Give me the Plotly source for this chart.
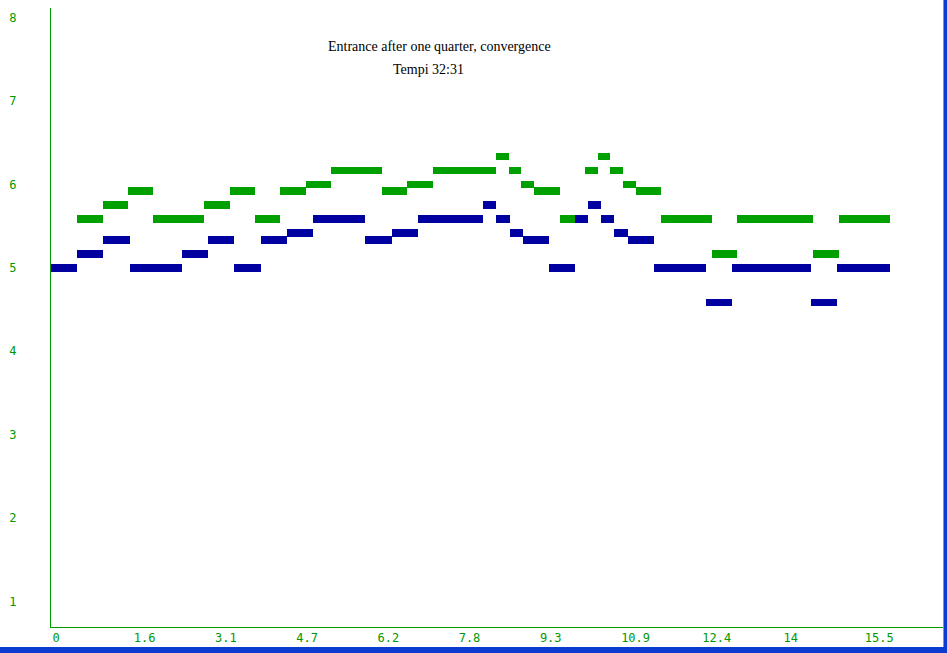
import plotly.graph_objects as go

# Blue voice (dux): bar start, end (x units), pitch (octave + semitone/12)
blue_start = [0.0, 0.5, 1.0, 1.5, 2.5, 3.0, 3.5, 4.0, 4.5, 5.0, 6.0, 6.5, 7.0, 8.25,
              8.5, 8.75, 9.0, 9.5, 10.0, 10.25, 10.5, 10.75, 11.0, 11.5, 12.5, 13.0,
              14.5, 15.0]
blue_end = [0.5, 1.0, 1.5, 2.5, 3.0, 3.5, 4.0, 4.5, 5.0, 6.0, 6.5, 7.0, 8.25, 8.5,
            8.75, 9.0, 9.5, 10.0, 10.25, 10.5, 10.75, 11.0, 11.5, 12.5, 13.0, 14.5,
            15.0, 16.0]
blue_pitch = [5.0, 5.167, 5.333, 5.0, 5.167, 5.333, 5.0, 5.333, 5.417, 5.583, 5.333,
              5.417, 5.583, 5.75, 5.583, 5.417, 5.333, 5.0, 5.583, 5.75, 5.583, 5.417,
              5.333, 5.0, 4.583, 5.0, 4.583, 5.0]

# Green voice (comes): enters after one quarter, slightly faster
green_start = [0.5, 0.984, 1.469, 1.953, 2.922, 3.406, 3.891, 4.375, 4.859, 5.344,
               6.313, 6.797, 7.281, 8.492, 8.734, 8.977, 9.219, 9.703, 10.188, 10.430,
               10.672, 10.914, 11.156, 11.641, 12.609, 13.094, 14.547, 15.031]
green_end = [0.984, 1.469, 1.953, 2.922, 3.406, 3.891, 4.375, 4.859, 5.344, 6.313,
             6.797, 7.281, 8.492, 8.734, 8.977, 9.219, 9.703, 10.188, 10.430, 10.672,
             10.914, 11.156, 11.641, 12.609, 13.094, 14.547, 15.031, 16.0]
green_pitch = [5.583, 5.75, 5.917, 5.583, 5.75, 5.917, 5.583, 5.917, 6.0, 6.167, 5.917,
               6.0, 6.167, 6.333, 6.167, 6.0, 5.917, 5.583, 6.167, 6.333, 6.167, 6.0,
               5.917, 5.583, 5.167, 5.583, 5.167, 5.583]

x_tickvals = [0, 1.55, 3.1, 4.65, 6.2, 7.75, 9.3, 10.85, 12.4, 13.95, 15.5]
x_ticktext = ["0", "1.6", "3.1", "4.7", "6.2", "7.8", "9.3", "10.9", "12.4", "14", "15.5"]
y_tickvals = [1, 2, 3, 4, 5, 6, 7, 8]

title_line1 = "Entrance after one quarter, convergence"
title_line2 = "Tempi 32:31"

GREEN = "#00A000"
BLUE = "#0000A0"
AXIS_GREEN = "#009900"
FRAME = "#0B3BD0"

def bar_trace(starts, ends, pitches, color, name):
    return go.Bar(
        orientation="h",
        base=starts,
        x=[e - s for s, e in zip(starts, ends)],
        y=pitches,
        width=0.092,
        marker=dict(color=color, line=dict(width=0)),
        name=name,
        showlegend=False,
        hoverinfo="skip",
    )

fig = go.Figure()
fig.add_trace(bar_trace(green_start, green_end, green_pitch, GREEN, "comes"))
fig.add_trace(bar_trace(blue_start, blue_end, blue_pitch, BLUE, "dux"))

mono = dict(family="DejaVu Sans Mono", size=12, color=AXIS_GREEN)

fig.update_layout(
    width=947,
    height=653,
    margin=dict(l=51, r=4, t=8, b=26),
    paper_bgcolor="white",
    plot_bgcolor="white",
    barmode="overlay",
    bargap=0,
    xaxis=dict(
        range=[0, 17.02],
        tickmode="array",
        tickvals=x_tickvals,
        ticktext=x_ticktext,
        ticks="",
        showgrid=False,
        zeroline=False,
        showline=True,
        linecolor=AXIS_GREEN,
        linewidth=1,
        tickfont=mono,
        ticklabelposition="outside right",
        ticklabelstandoff=0,
        ticklabelshift=1,
    ),
    yaxis=dict(
        range=[0.694, 8.114],
        tickmode="array",
        tickvals=y_tickvals,
        ticks="",
        showgrid=False,
        zeroline=False,
        showline=True,
        linecolor=AXIS_GREEN,
        linewidth=1,
        tickfont=mono,
        ticklabelstandoff=31,
    ),
    annotations=[
        dict(text=title_line1, xref="paper", yref="paper", x=0.435, y=0.937,
             showarrow=False, xanchor="center", yanchor="middle",
             font=dict(family="Liberation Serif", size=14, color="black")),
        dict(text=title_line2, xref="paper", yref="paper", x=0.423, y=0.900,
             showarrow=False, xanchor="center", yanchor="middle",
             font=dict(family="Liberation Serif", size=14, color="black")),
    ],
    shapes=[
        dict(type="rect", xref="paper", yref="paper", x0=-0.06, x1=1.02,
             y0=-0.0323, y1=-0.045, fillcolor=FRAME, line=dict(width=0),
             layer="above"),
        dict(type="rect", xref="paper", yref="paper", x0=1.0005, x1=1.02,
             y0=-0.045, y1=1.02, fillcolor=FRAME, line=dict(width=0),
             layer="above"),
    ],
)

fig.write_html(
    "out.html",
    config={"displayModeBar": False},
    post_script="document.body.style.margin='0';document.body.style.overflow='hidden';",
)
